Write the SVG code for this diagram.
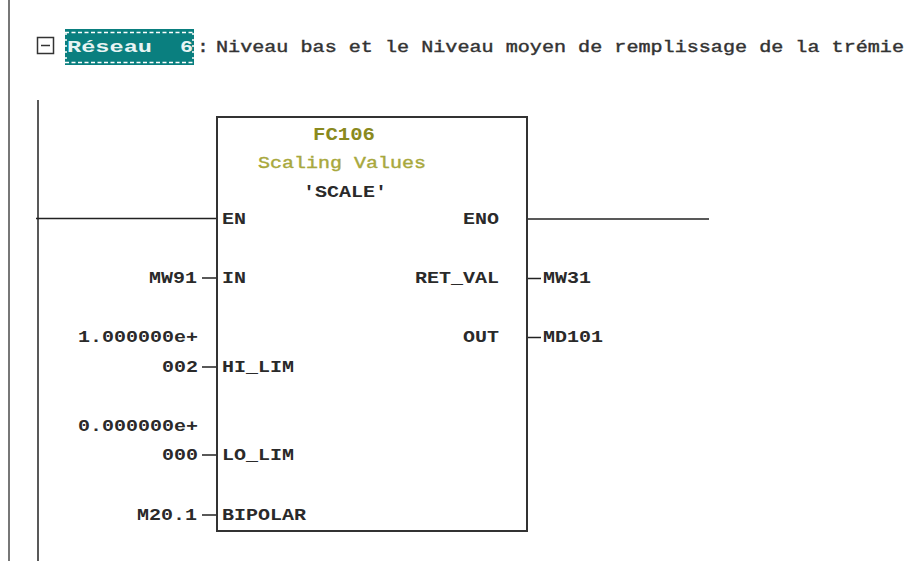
<svg xmlns="http://www.w3.org/2000/svg" width="907" height="561" viewBox="0 0 907 561">
<style>
text{font-family:"Liberation Mono","Courier New",monospace;font-size:16.500px;font-weight:bold;fill:#2a2a2a}
.n{fill:#333;font-weight:normal;stroke:#333;stroke-width:.4}
.b{fill:none;stroke:#333;stroke-width:2}
.w{fill:none;stroke:#222;stroke-width:1.5}
.o{fill:#8a8a1e;font-size:18px}
.y{fill:#a8a83c;font-weight:normal;stroke:#a8a83c;stroke-width:.4}
.h{fill:#e8f4f4}
</style>
<rect width="907" height="561" fill="#fff"/>
<g id="margin"><line x1="9" y1="0" x2="9" y2="561" stroke="#777" stroke-width="2"/></g>
<g id="header">
<rect x="37.500" y="37.500" width="16" height="16" fill="#fff" stroke="#333" stroke-width="1.500"/>
<line x1="41" y1="45.500" x2="50" y2="45.500" stroke="#333" stroke-width="1.500"/>
<rect x="65" y="29" width="129" height="36" fill="#0a7f7f"/>
<path d="M65 32.500H194M65 62.500H194" stroke="#fff" stroke-width="1.500" stroke-dasharray="4 2.500" fill="none"/>
<path d="M66 33V62M193 33V62" stroke="#fff" stroke-width="1.500" stroke-dasharray="2 4" fill="none"/>
<text x="67" y="52" class="h" textLength="85" lengthAdjust="spacingAndGlyphs">Réseau</text>
<text x="180" y="52" class="h" textLength="13" lengthAdjust="spacingAndGlyphs">6</text>
<text x="197" y="52" class="n" textLength="12" lengthAdjust="spacingAndGlyphs">:</text>
<text x="216" y="52" class="n" textLength="688" lengthAdjust="spacingAndGlyphs">Niveau bas et le Niveau moyen de remplissage de la trémie</text>
</g>
<g id="connectors">
<line class="w" x1="38" y1="100" x2="38" y2="561"/>
<line class="w" x1="36" y1="218.500" x2="217" y2="218.500"/>
<line class="w" x1="528" y1="219" x2="709" y2="219"/>
<line class="w" x1="202" y1="278" x2="217" y2="278"/>
<line class="w" x1="202" y1="367" x2="217" y2="367"/>
<line class="w" x1="202" y1="455" x2="217" y2="455"/>
<line class="w" x1="202" y1="515" x2="217" y2="515"/>
<line class="w" x1="528" y1="278.500" x2="541" y2="278.500"/>
<line class="w" x1="528" y1="337.500" x2="541" y2="337.500"/>
</g>
<g id="block">
<rect class="b" x="217" y="117" width="310" height="414"/>
<text class="o" x="313" y="140" textLength="62" lengthAdjust="spacingAndGlyphs">FC106</text>
<text class="y" x="258" y="168" textLength="168" lengthAdjust="spacingAndGlyphs">Scaling Values</text>
<text x="303" y="197" textLength="84" lengthAdjust="spacingAndGlyphs">'SCALE'</text>
<text x="222" y="224" textLength="24" lengthAdjust="spacingAndGlyphs">EN</text>
<text x="463" y="224" textLength="36" lengthAdjust="spacingAndGlyphs">ENO</text>
<text x="222" y="283" textLength="24" lengthAdjust="spacingAndGlyphs">IN</text>
<text x="415" y="283" textLength="84" lengthAdjust="spacingAndGlyphs">RET_VAL</text>
<text x="463" y="342" textLength="36" lengthAdjust="spacingAndGlyphs">OUT</text>
<text x="222" y="372" textLength="72" lengthAdjust="spacingAndGlyphs">HI_LIM</text>
<text x="222" y="460" textLength="72" lengthAdjust="spacingAndGlyphs">LO_LIM</text>
<text x="222" y="520" textLength="84" lengthAdjust="spacingAndGlyphs">BIPOLAR</text>
</g>
<g id="operands">
<text x="149" y="283" textLength="48" lengthAdjust="spacingAndGlyphs">MW91</text>
<text x="78" y="342" textLength="120" lengthAdjust="spacingAndGlyphs">1.000000e+</text>
<text x="162" y="372" textLength="36" lengthAdjust="spacingAndGlyphs">002</text>
<text x="78" y="431" textLength="120" lengthAdjust="spacingAndGlyphs">0.000000e+</text>
<text x="162" y="460" textLength="36" lengthAdjust="spacingAndGlyphs">000</text>
<text x="137" y="520" textLength="60" lengthAdjust="spacingAndGlyphs">M20.1</text>
<text x="543" y="283" textLength="48" lengthAdjust="spacingAndGlyphs">MW31</text>
<text x="543" y="342" textLength="60" lengthAdjust="spacingAndGlyphs">MD101</text>
</g>
</svg>
